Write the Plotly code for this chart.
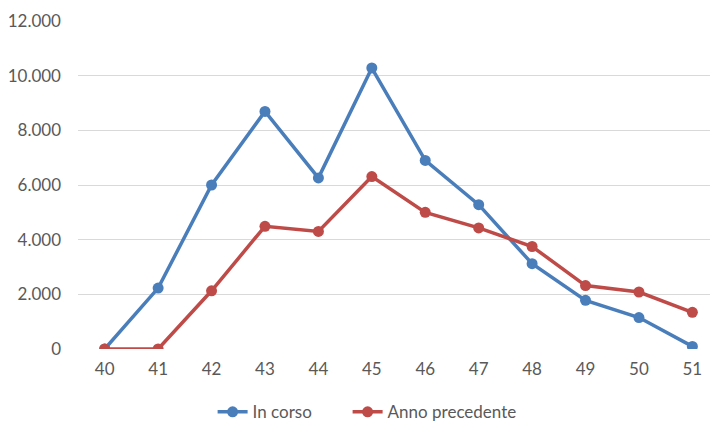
import plotly.graph_objects as go

weeks = ["40", "41", "42", "43", "44", "45", "46", "47", "48", "49", "50", "51"]
in_corso = [0, 2230, 6000, 8690, 6260, 10280, 6900, 5280, 3120, 1780, 1150, 95]
anno_precedente = [0, 0, 2130, 4490, 4300, 6310, 5000, 4430, 3750, 2320, 2085, 1340]
y_ticks = [0, 2000, 4000, 6000, 8000, 10000, 12000]
y_tick_labels = ["0", "2.000", "4.000", "6.000", "8.000", "10.000", "12.000"]

fig = go.Figure()
fig.add_trace(go.Scatter(
    x=weeks, y=in_corso, name="In corso", mode="lines+markers",
    line=dict(color="#4A7EBB", width=3.5),
    marker=dict(size=11, color="#4A7EBB"),
    legend="legend",
))
fig.add_trace(go.Scatter(
    x=weeks, y=anno_precedente, name="Anno precedente", mode="lines+markers",
    line=dict(color="#BE4B48", width=3.5),
    marker=dict(size=11, color="#BE4B48"),
    legend="legend2",
))

legend_style = dict(orientation="h", xanchor="left", y=-0.138, yanchor="top",
                    font=dict(size=17, color="#595959"), itemwidth=30,
                    bgcolor="rgba(0,0,0,0)")

fig.update_layout(
    width=710, height=423,
    margin=dict(l=78, r=0, t=21, b=74, autoexpand=False),
    paper_bgcolor="white", plot_bgcolor="white",
    font=dict(family="Lato, 'Open Sans', sans-serif", size=17, color="#595959"),
    showlegend=True,
    legend=dict(x=0.213, **legend_style),
    legend2=dict(x=0.4266, **legend_style),
    xaxis=dict(type="category", range=[-0.5, 11.33], showgrid=False,
               showline=False, zeroline=False, ticks="", ticklabelstandoff=8,
               automargin=False),
    yaxis=dict(range=[0, 12000], tickvals=y_ticks, ticktext=y_tick_labels,
               showgrid=True, gridcolor="#D9D9D9", gridwidth=1,
               zeroline=False, showline=False, ticks="", ticklabelstandoff=16,
               automargin=False),
)

fig.write_html("out.html",
               config={"displayModeBar": False},
               post_script="document.body.style.margin='0';document.body.style.overflow='hidden';")
